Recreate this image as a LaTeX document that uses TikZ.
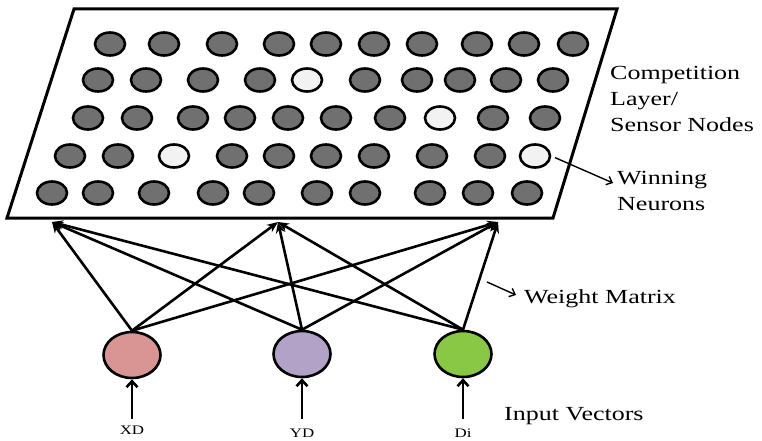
\documentclass[tikz,border=0pt]{standalone}
\usepackage{fontspec}
\setmainfont{Liberation Serif}[FakeStretch=1.3]
\usetikzlibrary{arrows.meta,shapes.geometric}

\definecolor{neurongray}{HTML}{707070}
\definecolor{winnerfill}{HTML}{F2F2F2}
\definecolor{inred}{HTML}{D99594}
\definecolor{inpurple}{HTML}{B3A2C7}
\definecolor{ingreen}{HTML}{88C845}

\tikzset{
  layer/.style={draw=black, line width=3pt, line join=miter, fill=white},
  neuron/.style={shape=ellipse, draw=black, line width=2.6pt, inner sep=0pt,
                 minimum width=30pt, minimum height=23pt},
  loser/.style={fill=neurongray},
  winner/.style={fill=winnerfill},
  inputnode/.style={shape=ellipse, draw=black, line width=2.6pt, inner sep=0pt,
                    minimum width=57pt, minimum height=46pt},
  wire/.style={line width=2.6pt, -{Stealth[length=11pt,width=9pt]}},
  feed/.style={line width=2.6pt, -{Straight Barb[length=6pt,width=11pt,line width=2.6pt]}},
  pointer/.style={line width=1.4pt, -{Straight Barb[length=5pt,width=9pt,line width=1.4pt]}},
  caption/.style={font=\fontsize{20}{26}\selectfont, inner sep=0pt, align=left},
  varname/.style={font=\fontsize{13}{15}\selectfont, inner sep=0pt}
}

\begin{document}
\begin{tikzpicture}[x=1pt,y=-1pt]
\useasboundingbox (0,0) rectangle (762,441);

% competition layer
\draw[layer] (74,9) -- (617,9) -- (553,218) -- (7,218) -- cycle;

% neurons of the competition layer
\foreach \r/\y/\xs in {
  1/44/{110/loser,164/loser,222/loser,279/loser,326/loser,374/loser,422/loser,477/loser,524/loser,573/loser},
  2/80/{98/loser,146/loser,203/loser,260/loser,307/winner,365/loser,417/loser,460/loser,506/loser,553/loser},
  3/118/{88/loser,137/loser,193/loser,240/loser,288/loser,336/loser,390/loser,440/winner,493/loser,545/loser},
  4/156/{70/loser,118/loser,174/winner,232/loser,279/loser,326/loser,374/loser,432/loser,490/loser,535/winner},
  5/193/{52/loser,98/loser,154/loser,213/loser,259/loser,317/loser,365/loser,430/loser,478/loser,527/loser}}
{
  \foreach \x/\s [count=\i] in \xs {
    \node[neuron,\s] (c\r-\i) at (\x,\y) {};
  }
}

% input nodes
\node[inputnode, fill=inred]    (inX) at (132,355) {};
\node[inputnode, fill=inpurple] (inY) at (302,354) {};
\node[inputnode, fill=ingreen]  (inD) at (463,354) {};

% entry points on the layer
\coordinate (tL) at (52,222);
\coordinate (tM) at (278,222);
\coordinate (tR) at (498,222);

% weight connections
\foreach \s in {inX,inY,inD}
  \foreach \t in {tL,tM,tR}
    \draw[wire] (\s.north) -- (\t);

% input vectors
\coordinate (fX) at (132,419);
\coordinate (fY) at (302,419);
\coordinate (fD) at (463,419);
\draw[feed] (fX) -- (inX.south);
\draw[feed] (fY) -- (inY.south);
\draw[feed] (fD) -- (inD.south);
\node[varname] (lX) at (132,430) {XD};
\node[varname] (lY) at (302,433) {YD};
\node[varname] (lD) at (463,433) {Di};

% captions
\node[caption, anchor=west] (comp) at (610,99) {Competition\\Layer/\\Sensor Nodes};
\node[caption, anchor=west] (win) at (617,191) {Winning\\Neurons};
\node[caption, anchor=west] (wm) at (524,299) {Weight Matrix};
\node[caption, anchor=west] (iv) at (504,416) {Input Vectors};

% caption pointers
\coordinate (winEnd) at (613,183);
\draw[pointer, shorten <=4pt] (c4-10.east) -- (winEnd);
\coordinate (wmStart) at (487,282);
\coordinate (wmEnd) at (516,295);
\draw[pointer] (wmStart) -- (wmEnd);
\end{tikzpicture}
\end{document}
